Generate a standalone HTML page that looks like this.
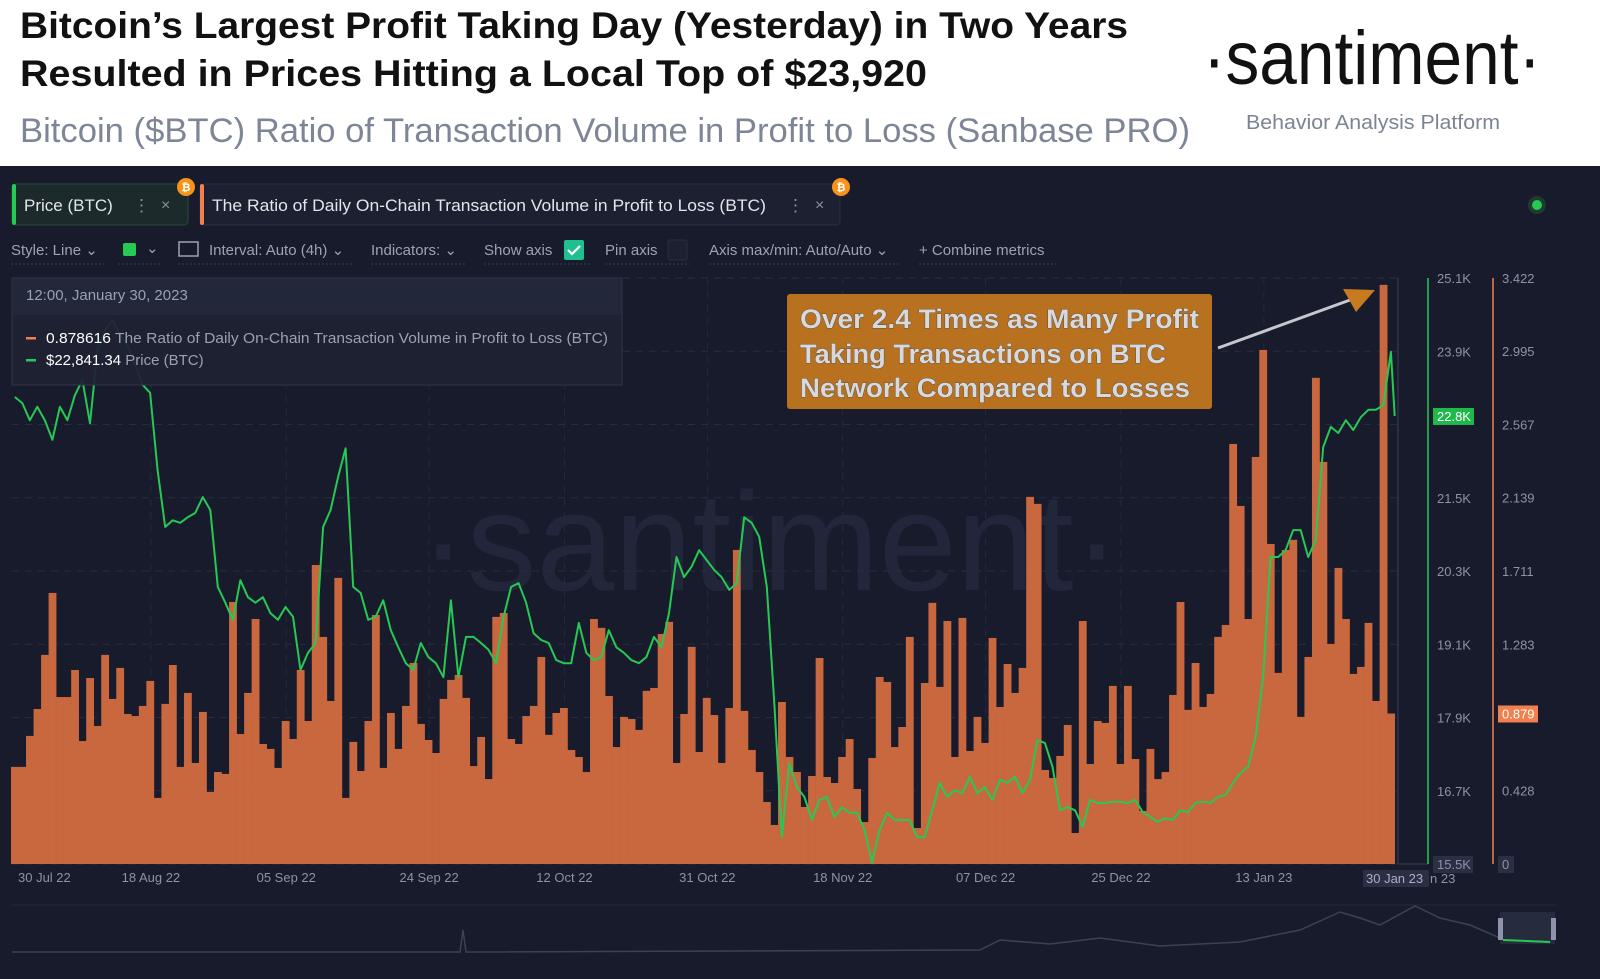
<!DOCTYPE html>
<html><head><meta charset="utf-8"><style>
html,body{margin:0;padding:0;background:#fff;}
svg{display:block;font-family:"Liberation Sans",sans-serif;}
</style></head><body>
<svg id="c" width="1600" height="979" viewBox="0 0 1600 979" xmlns="http://www.w3.org/2000/svg">
<rect x="0" y="0" width="1600" height="166" fill="#ffffff"/>
<text x="20" y="38" font-size="37" font-weight="bold" fill="#111" textLength="1108" lengthAdjust="spacingAndGlyphs">Bitcoin’s Largest Profit Taking Day (Yesterday) in Two Years</text>
<text x="20" y="86" font-size="37" font-weight="bold" fill="#111" textLength="907" lengthAdjust="spacingAndGlyphs">Resulted in Prices Hitting a Local Top of $23,920</text>
<text x="20" y="142" font-size="34" fill="#7d8597" textLength="1170" lengthAdjust="spacingAndGlyphs">Bitcoin ($BTC) Ratio of Transaction Volume in Profit to Loss (Sanbase PRO)</text>
<text x="1203" y="84" font-size="76" fill="#111" textLength="338" lengthAdjust="spacingAndGlyphs">·santiment·</text>
<text x="1246" y="129" font-size="20" fill="#7b8494" textLength="254" lengthAdjust="spacingAndGlyphs">Behavior Analysis Platform</text>
<rect x="0" y="166" width="1600" height="813" fill="#181b2b"/>

<g>
<rect x="12" y="184" width="176" height="41" rx="4" fill="#1c2a2c" stroke="#28493a"/>
<rect x="12" y="184" width="4" height="41" rx="2" fill="#26c953"/>
<text x="24" y="211" font-size="17" fill="#e2e5ec">Price (BTC)</text>
<text x="133" y="211" font-size="17" fill="#8a90a0">⋮</text>
<text x="161" y="210" font-size="16" fill="#8a90a0">×</text>
</g>
<g>
<rect x="200" y="184" width="640" height="41" rx="4" fill="#1d2030" stroke="#2a2e40"/>
<rect x="200" y="184" width="4" height="41" rx="2" fill="#f0814f"/>
<text x="212" y="211" font-size="17" fill="#e2e5ec" textLength="554" lengthAdjust="spacingAndGlyphs">The Ratio of Daily On-Chain Transaction Volume in Profit to Loss (BTC)</text>
<text x="787" y="211" font-size="17" fill="#8a90a0">⋮</text>
<text x="815" y="210" font-size="16" fill="#8a90a0">×</text>
</g>
<g><circle cx="186" cy="187" r="9" fill="#f7931a"/><text x="186" y="191" font-size="11" font-weight="bold" fill="#fff" text-anchor="middle">₿</text></g>
<g><circle cx="841" cy="187" r="9" fill="#f7931a"/><text x="841" y="191" font-size="11" font-weight="bold" fill="#fff" text-anchor="middle">₿</text></g>
<circle cx="1537" cy="205" r="9" fill="#1f3a30"/>
<circle cx="1537" cy="205" r="5" fill="#26c953"/>

<g font-size="15" fill="#9ba3b5">
<text x="11" y="255">Style: Line ⌄</text>
<rect x="123" y="243" width="13" height="13" rx="2" fill="#26c953"/>
<text x="146" y="253">⌄</text>
<rect x="179" y="242" width="19" height="14" fill="none" stroke="#9ba3b5" stroke-width="1.5"/>
<text x="209" y="255">Interval: Auto (4h) ⌄</text>
<text x="371" y="255">Indicators: ⌄</text>
<text x="484" y="255">Show axis</text>
<rect x="564" y="240" width="20" height="20" rx="2" fill="#1fbf8f"/>
<path d="M568 250 l4 4 l8 -8" stroke="#fff" stroke-width="2.2" fill="none"/>
<text x="605" y="255">Pin axis</text>
<rect x="668" y="240" width="19" height="20" rx="2" fill="#1d2030" stroke="#2a2e40"/>
<text x="709" y="255">Axis max/min: Auto/Auto ⌄</text>
<text x="919" y="255">+  Combine metrics</text>
<g stroke="#363b50" stroke-dasharray="2 2" stroke-width="1">
<line x1="11" y1="264" x2="104" y2="264"/><line x1="118" y1="264" x2="160" y2="264"/><line x1="178" y1="264" x2="352" y2="264"/><line x1="371" y1="264" x2="465" y2="264"/><line x1="484" y1="264" x2="592" y2="264"/><line x1="605" y1="264" x2="690" y2="264"/><line x1="709" y1="264" x2="900" y2="264"/><line x1="919" y1="264" x2="1056" y2="264"/>
</g>
</g>

<text x="770" y="590" font-size="140" fill="#22263a" text-anchor="middle">·santiment·</text>
<g id="grid"></g>
<g id="bars"></g>
<path id="priceLine" fill="none" stroke="#26c953" stroke-width="2" stroke-linejoin="round"/>
<g id="axes"></g>

<g>
<rect x="12" y="278" width="610" height="107" fill="#1e2133" fill-opacity="0.93" stroke="#30354a"/>
<rect x="13" y="279" width="608" height="36" fill="#24283b" fill-opacity="0.9"/>
<text x="26" y="300" font-size="15" fill="#9aa1b3">12:00, January 30, 2023</text>
<rect x="26" y="337" width="10" height="2.5" fill="#f0814f"/>
<text x="46" y="343" font-size="15" fill="#9aa1b3" textLength="562" lengthAdjust="spacingAndGlyphs"><tspan fill="#ffffff">0.878616</tspan> The Ratio of Daily On-Chain Transaction Volume in Profit to Loss (BTC)</text>
<rect x="26" y="359" width="10" height="2.5" fill="#26c953"/>
<text x="46" y="365" font-size="15" fill="#9aa1b3"><tspan fill="#ffffff">$22,841.34</tspan> Price (BTC)</text>
</g>

<g>
<rect x="787" y="294" width="425" height="115" rx="3" fill="#b8711e"/>
<g font-size="27" font-weight="bold" fill="#d9d9dc" stroke="#4a4a4a" stroke-width="0.8" paint-order="stroke">
<text x="800" y="328" textLength="399" lengthAdjust="spacingAndGlyphs">Over 2.4 Times as Many Profit</text>
<text x="800" y="363" textLength="366" lengthAdjust="spacingAndGlyphs">Taking Transactions on BTC</text>
<text x="800" y="397" textLength="390" lengthAdjust="spacingAndGlyphs">Network Compared to Losses</text>
</g>
<line x1="1218" y1="348" x2="1350" y2="300" stroke="#c5c7d0" stroke-width="3"/>
<polygon points="1375,290 1343,289 1356,312" fill="#c77a1e"/>
</g>

<g>
<line x1="12" y1="905" x2="1556" y2="905" stroke="#262a3c"/>
<path d="M12 952 L460 952 L463 930 L466 952 L980 950 L1000 940 L1050 944 L1100 938 L1160 946 L1240 942 L1300 930 L1340 912 L1360 918 L1380 925 L1415 906 L1440 918 L1470 925 L1500 938" fill="none" stroke="#3c4156" stroke-width="1.5"/>
<rect x="1500" y="912" width="55" height="32" fill="#262b3e"/>
<rect x="1498" y="918" width="5" height="22" fill="#8d93ab"/><rect x="1551" y="918" width="5" height="22" fill="#8d93ab"/>
<path d="M1503 940 L1550 942" stroke="#26c953" stroke-width="2"/>
</g>
</svg>
<script>
var ratioValues=[0.567,0.567,0.748,0.905,1.221,1.583,0.975,0.975,1.133,0.718,1.086,0.806,1.221,0.964,1.145,0.876,0.864,0.923,1.069,0.386,0.935,1.162,0.567,0.999,0.590,0.888,0.421,0.537,0.526,1.530,0.759,0.999,1.431,0.701,0.672,0.561,0.835,0.730,1.133,0.835,1.746,1.326,0.952,1.671,0.386,0.713,0.543,0.835,1.454,0.561,0.882,0.672,0.923,1.174,0.818,0.724,0.648,0.964,1.075,1.104,0.970,0.572,0.742,0.496,1.443,1.466,0.730,0.701,0.864,0.923,1.209,0.754,0.882,0.911,0.666,0.625,0.537,1.431,1.379,0.981,0.683,0.859,0.847,0.783,1.011,1.028,1.343,1.414,0.590,0.876,1.268,0.654,0.970,0.870,0.590,0.911,1.834,0.894,0.666,0.537,0.362,0.228,0.946,0.625,0.537,0.333,0.514,1.203,0.508,0.473,0.625,0.730,0.438,0.245,0.619,1.092,1.063,0.683,0.800,1.326,0.210,1.057,1.525,1.034,1.419,0.625,1.437,0.660,0.859,0.707,1.320,0.917,1.168,0.999,1.145,2.144,2.103,0.549,0.502,0.631,0.812,0.181,1.419,0.584,0.835,0.824,1.040,0.584,1.040,0.613,0.310,0.672,0.496,0.537,0.987,1.530,0.900,1.174,0.917,0.993,1.326,1.396,2.453,2.091,1.431,2.377,3.002,1.869,1.116,1.834,1.893,0.859,1.209,2.839,2.348,1.285,1.729,1.431,1.110,1.151,1.408,0.952,3.382,0.879];
var priceValues=[23150,23050,22770,22990,22770,22450,22990,22770,23180,23430,22720,23920,24250,24410,24170,24000,23670,23350,23220,21950,21020,21130,21090,21180,21250,21510,21300,20040,19780,19500,20150,19870,19780,19870,19610,19500,19710,19550,18680,18960,19120,21020,21300,21840,22310,20040,19940,19500,19550,19820,19330,19050,18790,18680,19120,18890,18790,18560,19820,18560,19220,19220,19120,19010,18790,19550,20040,20100,19780,19280,19170,19120,18840,18790,18790,19450,18960,18840,18890,19330,19050,18960,18840,18790,18890,19220,19050,19610,20530,20200,20370,20640,20480,20320,20200,19990,20100,21180,21090,20860,20040,18140,15940,17150,16760,16600,16220,16550,16600,16270,16430,16340,16340,16060,15520,16060,16340,16220,16220,16220,15940,15940,16380,16830,16600,16710,16660,16930,16660,16760,16550,16880,16830,16930,16660,16880,17530,17480,17090,16380,16430,16380,16110,16550,16500,16500,16520,16520,16500,16550,16350,16270,16190,16250,16220,16380,16350,16500,16520,16500,16600,16630,16830,16990,17090,17580,18560,20530,20530,20640,20970,20970,20530,20810,22330,22660,22560,22770,22610,22820,22940,22940,23020,23890,22840];
var priceTicks=["25.1K","23.9K","","21.5K","20.3K","19.1K","17.9K","16.7K","15.5K"];
var priceTickValues=[25100,23900,22700,21500,20300,19100,17900,16700,15500];
var ratioTicks=["3.422","2.995","2.567","2.139","1.711","1.283","","0.428","0"];
var ratioTickValues=[3.422,2.995,2.567,2.139,1.711,1.283,0.856,0.428,0];
var dateLabels=["30 Jul 22","18 Aug 22","05 Sep 22","24 Sep 22","12 Oct 22","31 Oct 22","18 Nov 22","07 Dec 22","25 Dec 22","13 Jan 23"];
var dateIndex=[0,19,37,56,74,93,111,130,148,167];

var NS="http://www.w3.org/2000/svg";
var X0=11,BW=7.52,TOP=278,BOT=864;
function xBar(i){return X0+i*BW;}
function xMid(i){return X0+i*BW+BW/2;}
function yPrice(p){return BOT-(p-15500)/(25100-15500)*(BOT-TOP);}
function yRatio(v){return BOT-v/3.422*(BOT-TOP);}
function mk(tag,attrs,parent){var e=document.createElementNS(NS,tag);for(var k in attrs)e.setAttribute(k,attrs[k]);parent.appendChild(e);return e;}

var grid=document.getElementById('grid');
priceTickValues.forEach(function(v,i){
  var l=mk('line',{x1:12,x2:1398,y1:yPrice(v),y2:yPrice(v),stroke:'#282c3f','stroke-dasharray':'7 6'},grid);
  
  
});
dateIndex.forEach(function(d,i){
  if(i===0)return;
  var x=xBar(d)-3;
  var l=mk('line',{x1:x,x2:x,y1:TOP,y2:BOT,stroke:'#252939','stroke-dasharray':'7 6'},grid);
  
  
});

var bars=document.getElementById('bars');
ratioValues.forEach(function(v,i){
  var y=yRatio(v);
  var r=mk('rect',{x:xBar(i),y:y,width:BW+0.3,height:BOT-y,fill:'#c9683f'},bars);
  
  
});

var d='';
priceValues.forEach(function(p,i){
  var x=(i < ratioValues.length)?xMid(i):xBar(i);
  d+=(i?'L':'M')+x.toFixed(1)+' '+yPrice(p).toFixed(1)+' ';
});
document.getElementById('priceLine').setAttribute('d',d);

var axes=document.getElementById('axes');
mk('line',{x1:1398,x2:1398,y1:TOP,y2:BOT,stroke:'#3a3f55','stroke-width':1},axes);
mk('line',{x1:1398,x2:1428,y1:BOT,y2:BOT,stroke:'#3a3f55'},axes);
var ga=mk('line',{x1:1428,x2:1428,y1:TOP,y2:BOT,stroke:'#26c953','stroke-width':1.5},axes);


var oa=mk('line',{x1:1493,x2:1493,y1:TOP,y2:BOT,stroke:'#f0814f','stroke-width':1.5},axes);


priceTicks.forEach(function(t,i){
  if(!t)return;
  var y=yPrice(priceTickValues[i]);
  if(i===priceTicks.length-1){mk('rect',{x:1433,y:y-8,width:40,height:17,fill:'#2a2f43'},axes);}
  var e=mk('text',{x:1437,y:y+5,'font-size':13,fill:'#8d93a5'},axes);
  e.textContent=t;
  
  
});
ratioTicks.forEach(function(t,i){
  if(!t)return;
  var y=yRatio(ratioTickValues[i]);
  if(i===ratioTicks.length-1){mk('rect',{x:1498,y:y-8,width:16,height:17,fill:'#2a2f43'},axes);}
  var e=mk('text',{x:1502,y:y+5,'font-size':13,fill:'#8d93a5'},axes);
  e.textContent=t;
  
  
});
var lastP=priceValues[priceValues.length-1], lastR=ratioValues[ratioValues.length-1];
var yp=yPrice(lastP);
mk('rect',{x:1433,y:yp-8,width:41,height:17,fill:'#1fb84a'},axes);
var pl=mk('text',{x:1437,y:yp+5,'font-size':13,fill:'#ffffff'},axes);
pl.textContent=(lastP/1000).toFixed(1)+'K';


var yr=yRatio(lastR);
mk('rect',{x:1498,y:yr-8,width:40,height:17,fill:'#f0814f'},axes);
var rl=mk('text',{x:1502,y:yr+5,'font-size':13,fill:'#ffffff'},axes);
rl.textContent=lastR.toFixed(3);


dateLabels.forEach(function(t,i){
  var x=i===0?18:xBar(dateIndex[i])-3;
  var e=mk('text',{x:x,y:882,'font-size':13,fill:'#8d93a5','text-anchor':i===0?'start':'middle'},axes);
  e.textContent=t;
  
  
});
mk('rect',{x:1363,y:870,width:66,height:17,fill:'#2a2f43'},axes);
var cl=mk('text',{x:1366,y:883,'font-size':13,fill:'#aab0c0'},axes);
cl.textContent='30 Jan 23';


var c2=mk('text',{x:1430,y:883,'font-size':13,fill:'#8d93a5'},axes);
c2.textContent='n 23';


</script>
</body></html>
